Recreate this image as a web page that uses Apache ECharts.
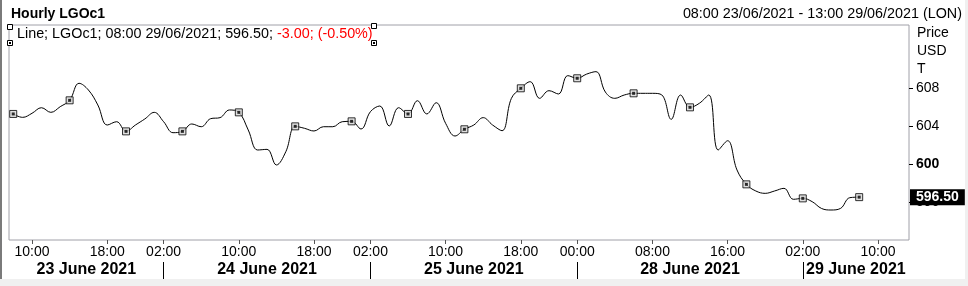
<!DOCTYPE html>
<html><head><meta charset="utf-8">
<script src="https://cdn.jsdelivr.net/npm/echarts@6/dist/echarts.min.js"></script>
<style>html,body{margin:0;padding:0;background:#fff}#c{width:968px;height:286px}</style>
</head><body><div id="c"></div>
<script>
// ---- data ----
const dayDates = ['23/06/2021','24/06/2021','25/06/2021','28/06/2021','29/06/2021'];
const dayNames = ['23 June 2021','24 June 2021','25 June 2021','28 June 2021','29 June 2021'];
const dayFirstHour = [8, 2, 2, 0, 2];
const dayLastHour = [23, 23, 23, 23, 13];
const values = [
  605.29,604.93,605.36,605.95,605.46,606.06,606.73,608.53,607.82,606.24,
  604.12,604.47,603.45,604.12,604.76,605.46,604.47,603.31,603.45,604.23,
  603.94,604.79,604.90,605.71,605.46,603.60,601.48,601.55,599.90,601.30,
  603.98,603.77,603.49,603.94,603.94,604.47,604.51,603.70,605.53,606.13,
  604.02,605.95,605.29,606.69,605.29,606.48,604.30,602.96,603.67,604.12,
  604.90,604.12,603.52,606.94,608.00,608.70,606.94,607.75,607.40,609.34,
  609.06,609.50,609.76,607.60,606.94,607.29,607.47,607.47,607.47,607.30,
  604.72,607.29,605.99,606.42,607.29,601.48,602.46,599.37,597.85,597.15,
  596.90,597.15,597.43,596.27,596.37,596.02,595.30,595.14,595.30,596.44,
  596.50
];
const xTickTimes = ['23/06/2021 10:00','23/06/2021 18:00','24/06/2021 02:00','24/06/2021 10:00','24/06/2021 18:00',
  '25/06/2021 02:00','25/06/2021 10:00','25/06/2021 18:00','28/06/2021 00:00','28/06/2021 08:00','28/06/2021 16:00',
  '29/06/2021 02:00','29/06/2021 10:00'];
const yTicks = [596, 600, 604, 608];
const titleText = 'Hourly LGOc1';
const rangeText = '08:00 23/06/2021 - 13:00 29/06/2021 (LON)';
const legendMain = 'Line; LGOc1; 08:00 29/06/2021; 596.50; ';
const legendChange = '-3.00; (-0.50%)';
const unitLines = ['Price', 'USD', 'T'];

// ---- build ----
const pad = h => (h < 10 ? '0' : '') + h;
const categories = [];
const dayStartIdx = [];
dayDates.forEach((d, k) => {
  dayStartIdx.push(categories.length);
  for (let h = dayFirstHour[k]; h <= dayLastHour[k]; h++) categories.push(d + ' ' + pad(h) + ':00');
});
const xMin = -0.45, xMax = 95.3;
const tickIdx = xTickTimes.map(t => categories.indexOf(t));
const sepIdx = dayStartIdx.slice(1);
const dayCenters = dayStartIdx.map((s, k) => {
  const a = k === 0 ? xMin : s;
  const b = k === dayStartIdx.length - 1 ? xMax : dayStartIdx[k + 1];
  return (a + b) / 2;
});
const lineData = values.map((v, i) => [i, v]);
const markData = lineData.filter((p, i) => i % 6 === 0 || i === values.length - 1);
const FONT = '"Liberation Sans", Arial, sans-serif';
const lastVal = values[values.length - 1];

const chart = echarts.init(document.getElementById('c'), null, {renderer: 'canvas'});
chart.setOption({
  animation: false,
  backgroundColor: '#fff',
  textStyle: {fontFamily: FONT},
  grid: {left: 9, top: 25, right: 59, bottom: 46, show: true, borderColor: '#a0a0a8', borderWidth: 1, backgroundColor: '#fff'},
  xAxis: [{
    type: 'value', min: xMin, max: xMax, position: 'bottom',
    axisLine: {show: false, onZero: false}, splitLine: {show: false},
    axisTick: {show: true, customValues: tickIdx, length: 4, lineStyle: {color: '#555'}},
    axisLabel: {customValues: tickIdx, margin: 5, fontSize: 14, color: '#000', fontFamily: FONT,
      formatter: v => categories[Math.round(v)].slice(-5)}
  }, {
    type: 'value', min: xMin, max: xMax, position: 'bottom', offset: 22,
    axisLine: {show: false, onZero: false}, splitLine: {show: false},
    axisTick: {show: true, customValues: sepIdx, length: 17, lineStyle: {color: '#000'}},
    axisLabel: {customValues: dayCenters, margin: 0, fontSize: 16, fontWeight: 'bold', color: '#000', fontFamily: FONT,
      formatter: v => dayNames[dayCenters.indexOf(v)]}
  }],
  yAxis: {
    type: 'value', position: 'right', min: 591.97, max: 614.69,
    axisLine: {show: false, onZero: false}, splitLine: {show: false},
    axisTick: {show: true, customValues: yTicks, length: 4, lineStyle: {color: '#000'}},
    axisLabel: {customValues: yTicks, margin: 7, fontSize: 14, color: '#000', fontFamily: FONT,
      formatter: v => v === 600 ? '{b|600}' : String(v),
      rich: {b: {fontWeight: 'bold', fontSize: 14, color: '#000', fontFamily: FONT}}}
  },
  series: [{
    type: 'line', data: lineData, smooth: 0.4, showSymbol: false, z: 3, clip: false,
    lineStyle: {color: '#000', width: 1},
    markLine: {
      silent: true, symbol: 'none', z: 20,
      lineStyle: {color: 'rgba(0,0,0,0)', width: 0, opacity: 1},
      data: [{yAxis: lastVal}],
      label: {show: true, position: 'end', distance: 1, formatter: () => lastVal.toFixed(2), opacity: 1,
        backgroundColor: '#000', color: '#fff', fontWeight: 'bold', fontSize: 14, fontFamily: FONT,
        padding: [1, 6, 1, 6], lineHeight: 14}
    }
  }, {
    type: 'scatter', data: markData, symbol: 'rect', symbolSize: 7, z: 4,
    itemStyle: {color: '#d8d8d8', borderColor: '#000', borderWidth: 1}
  }, {
    type: 'scatter', data: markData, symbol: 'rect', symbolSize: 3, z: 5,
    itemStyle: {color: '#000'}
  }],
  graphic: [
    {type: 'rect', shape: {x: 0, y: 0, width: 2, height: 286}, style: {fill: '#7a7a7a'}, z: 50},
    {type: 'rect', shape: {x: 0, y: 279, width: 968, height: 7}, style: {fill: '#f0f0f0'}, z: 50},
    {type: 'rect', shape: {x: 965, y: 0, width: 3, height: 286}, style: {fill: '#f0f0f0'}, z: 50},
    {type: 'text', x: 11, y: 14, style: {text: titleText, font: 'bold 14px ' + FONT, fill: '#000', verticalAlign: 'middle'}},
    {type: 'text', x: 962, y: 14, style: {text: rangeText, font: '14.35px ' + FONT, fill: '#000', align: 'right', verticalAlign: 'middle'}},
    {type: 'text', x: 17, y: 34, z: 30, style: {
      text: '{a|' + legendMain + '}{r|' + legendChange + '}', verticalAlign: 'middle',
      rich: {a: {font: '14.35px ' + FONT, fill: '#000'}, r: {font: '14.35px ' + FONT, fill: '#ff0000'}}}},
    ...unitLines.map((t, k) => ({type: 'text', x: 917, y: 33.5 + k * 18, style: {text: t, font: '14px ' + FONT, fill: '#000', verticalAlign: 'middle'}})),
    ...[[10, 27, false], [10, 43, true], [374, 26, false], [374, 43, true]].map(p => ({
      type: 'group', z: 40, children: [
        {type: 'rect', shape: {x: p[0] - 2.5, y: p[1] - 2.5, width: 5, height: 5}, style: {fill: '#fff', stroke: '#000', lineWidth: 1}},
        ...(p[2] ? [{type: 'rect', shape: {x: p[0] - 1, y: p[1] - 1, width: 2, height: 2}, style: {fill: '#000'}}] : [])
      ]}))
  ]
});
</script></body></html>
